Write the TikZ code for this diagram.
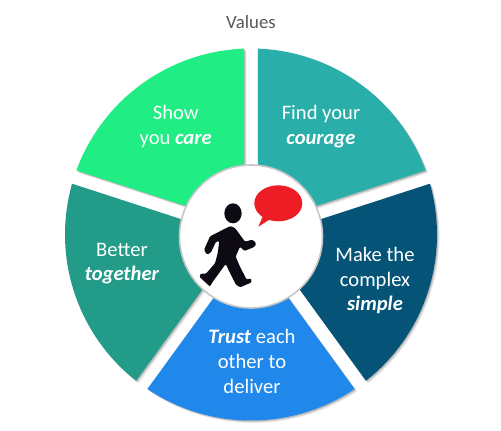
\documentclass[tikz,border=0pt]{standalone}
\usepackage{fontspec}
\setmainfont{Carlito}
\definecolor{cgreen}{HTML}{20EE85}
\definecolor{cteal}{HTML}{2AAEA9}
\definecolor{cnavy}{HTML}{055478}
\definecolor{cblue}{HTML}{1F88EA}
\definecolor{cdark}{HTML}{229B88}
\definecolor{cink}{HTML}{0E0A14}
\definecolor{cbubble}{HTML}{EE1C25}
\newcommand{\sectorpath}[1]{
  ({251+11.9*cos(#1)},{234.5-11.9*sin(#1)}) --
  ({251+186*cos(#1+33.85)},{234.5-186*sin(#1+33.85)})
  arc[start angle={-(#1+33.85)}, end angle={-(#1-33.85)}, radius=186pt] -- cycle}
\tikzset{
  x=1pt,y=1pt,
  every node/.style={inner sep=0pt},
  label text/.style={text=white,font=\fontsize{20.6}{24.6}\selectfont,align=center},
}
\begin{document}
\begin{tikzpicture}[yscale=-1]
\useasboundingbox (0,0) rectangle (501,431);
\fill[white] (0,0) rectangle (501,431);
\foreach \a/\c in {126/cgreen,54/cteal,-18/cnavy,-90/cblue,198/cdark}{
  \foreach \d/\o in {2.6/.06,1.8/.1,1/.14}{
    \fill[black,opacity=\o,shift={(\d,\d)}] \sectorpath{\a};
  }
  \fill[\c] \sectorpath{\a};
}
\node[circle,minimum size=143pt,fill=white,draw=black!22,line width=1.6pt] (hub) at (251,236.5) {};
% speech bubble
\fill[cbubble] (258.3,226.7) -- (263,216) -- (272,218) -- cycle;
\fill[cbubble] (278.3,203.3) ellipse [x radius=24, y radius=18];
% walking figure, drawn in the coordinates of a 3x crop
\begin{scope}[shift={(195,195)},scale=1/3]
\fill[cink] (114,55) ellipse [x radius=26, y radius=30];
\fill[cink,rounded corners=1.2pt]
  (106,93) -- (120,99) -- (150,140) -- (172,134) -- (184,145) -- (178,156)
  -- (148,168) -- (135,155) -- (122,185) -- (135,215) -- (155,254) -- (168,250)
  -- (170,262) -- (135,277) -- (122,268) -- (92,207) -- (52,262) -- (45,275)
  -- (13,245) -- (18,235) -- (32,237) -- (60,205) -- (68,175) -- (73,138)
  -- (63,140) -- (48,172) -- (36,179) -- (27,165) -- (45,124) -- cycle;
\end{scope}
\node[font=\fontsize{18.8}{22}\selectfont,text=black!65] (title) at (251,22) {Values};
\node[label text] (care) at (175.7,126.5) {Show\\you \textbf{\textit{care}}};
\node[label text] (courage) at (321,126.5) {Find your\\\textbf{\textit{courage}}};
\node[label text] (simple) at (375,280.5) {Make the\\complex\\\textbf{\textit{simple}}};
\node[label text] (trust) at (252,361.5) {\textbf{\textit{Trust}} each\\other to\\deliver};
\node[label text] (together) at (122,263.5) {Better\\\textbf{\textit{together}}};
\end{tikzpicture}
\end{document}
